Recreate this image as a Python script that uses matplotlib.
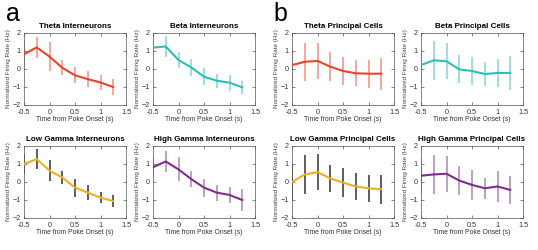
import matplotlib
matplotlib.use("Agg")
import matplotlib.pyplot as plt

plt.rcParams['font.family'] = ['Liberation Sans', 'DejaVu Sans']

# time bins (s)
timePoints = [-0.5, -0.25, 0, 0.25, 0.5, 0.75, 1.0, 1.25]

# mean normalized firing rate and error per group
thetaInt = [0.82, 1.2, 0.69, 0.07, -0.35, -0.56, -0.75, -1.0]
thetaIntErr = [0.8, 0.58, 0.8, 0.42, 0.44, 0.45, 0.42, 0.47]
betaInt = [1.19, 1.25, 0.5, 0.09, -0.43, -0.65, -0.76, -1.02]
betaIntErr = [0.5, 0.58, 0.47, 0.47, 0.47, 0.38, 0.44, 0.36]
lowGammaInt = [1.0, 1.27, 0.63, 0.25, -0.31, -0.59, -0.87, -1.06]
lowGammaIntErr = [0.55, 0.55, 0.58, 0.36, 0.5, 0.41, 0.3, 0.32]
highGammaInt = [0.82, 1.14, 0.7, 0.16, -0.31, -0.59, -0.72, -1.0]
highGammaIntErr = [0.6, 0.61, 0.67, 0.45, 0.5, 0.44, 0.44, 0.59]

thetaPC = [0.22, 0.4, 0.45, 0.13, -0.11, -0.24, -0.26, -0.26]
thetaPCErr = [1.0, 1.07, 1.0, 0.82, 0.8, 0.73, 0.77, 0.88]
betaPC = [0.22, 0.48, 0.43, -0.02, -0.11, -0.28, -0.22, -0.22]
betaPCErr = [1.0, 1.1, 1.0, 0.77, 0.8, 0.65, 0.77, 0.93]
lowGammaPC = [0.0, 0.42, 0.55, 0.2, -0.03, -0.25, -0.35, -0.4]
lowGammaPCErr = [1.0, 1.07, 1.0, 0.75, 0.8, 0.75, 0.75, 0.8]
highGammaPC = [0.35, 0.42, 0.46, 0.08, -0.16, -0.35, -0.25, -0.44]
highGammaPCErr = [1.0, 1.07, 1.0, 0.8, 0.82, 0.6, 0.86, 0.8]

red = '#E5452C'
teal = '#2FBDB8'
yellow = '#EDB120'
purple = '#7E2F8E'

# (title, mean, err, line color, error bar color, left px, top px)
panels = [
    ('Theta Interneurons', thetaInt, thetaIntErr, red, red, 24, 33),
    ('Beta Interneurons', betaInt, betaIntErr, teal, teal, 153, 33),
    ('Low Gamma Interneurons', lowGammaInt, lowGammaIntErr, yellow, '#222222', 24, 146),
    ('High Gamma Interneurons', highGammaInt, highGammaIntErr, purple, purple, 153, 146),
    ('Theta Principal Cells', thetaPC, thetaPCErr, red, red, 292, 33),
    ('Beta Principal Cells', betaPC, betaPCErr, teal, teal, 421, 33),
    ('Low Gamma Principal Cells', lowGammaPC, lowGammaPCErr, yellow, '#222222', 292, 146),
    ('High Gamma Principal Cells', highGammaPC, highGammaPCErr, purple, purple, 421, 146),
]

W, H = 538, 250
fig = plt.figure(figsize=(W / 100, H / 100), dpi=100)

for title, mean, err, lineColor, errColor, left, top in panels:
    ax = fig.add_axes([left / W, 1 - (top + 72) / H, 102 / W, 72 / H])
    errAlpha = 0.85 if errColor == '#222222' else 0.55
    ax.errorbar(timePoints, mean, yerr=err, fmt='none', ecolor=errColor,
                elinewidth=1.2, capsize=0, alpha=errAlpha, zorder=2)
    ax.plot(timePoints, mean, color=lineColor, lw=1.5, zorder=3)
    ax.set_xlim(-0.5, 1.5)
    ax.set_ylim(-2, 2)
    ax.set_xticks([-0.5, 0, 0.5, 1, 1.5])
    ax.set_xticklabels(['-0.5', '0', '0.5', '1', '1.5'])
    ax.set_yticks([-2, -1, 0, 1, 2])
    ax.tick_params(direction='in', length=2, width=0.5, color='#555555',
                   labelsize=5.2, labelcolor='#333333', top=True, right=True)
    ax.tick_params(axis='x', pad=2.6)
    ax.tick_params(axis='y', pad=2.4)
    for s in ax.spines.values():
        s.set_linewidth(0.5)
        s.set_color('#555555')
    ax.set_title(title, fontsize=5.8, fontweight='bold', pad=3.5)
    ax.set_xlabel('Time from Poke Onset (s)', fontsize=4.9, color='#333333', labelpad=0.6)
    ax.set_ylabel('Normalized Firing Rate (Hz)', fontsize=4.6, color='#444444', labelpad=0.8)

fig.text(6 / W, 1 - 21 / H, 'a', fontsize=18)
fig.text(273 / W, 1 - 21 / H, 'b', fontsize=18)

fig.savefig('out.png', dpi=100)
